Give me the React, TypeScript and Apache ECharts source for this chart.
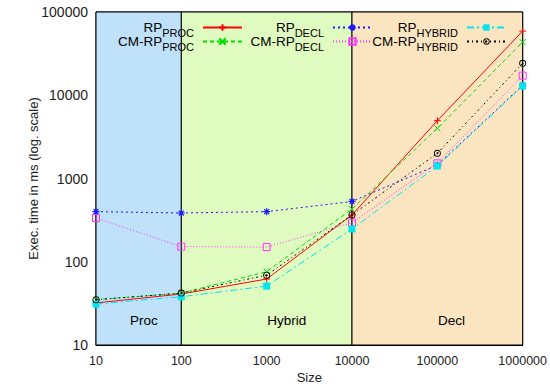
import React, { useEffect, useRef } from "react";
import * as echarts from "echarts";

const sizes = [10, 100, 1000, 10000, 100000, 1000000];
const rpProc = [32, 41, 62, 365, 4950, 59000];
const cmRpProc = [35, 42, 76, 430, 4000, 43500];
const rpDecl = [400, 385, 400, 530, 1450, 13200];
const cmRpDecl = [335, 152, 150, 295, 1520, 17200];
const rpHybrid = [31, 38, 51, 248, 1410, 12900];
const cmRpHybrid = [35, 42, 69, 365, 2010, 24200];

const regions = [
  { name: "Proc", from: 10, to: 100, color: "#bfe1fa", labelX: 36.5 },
  { name: "Hybrid", from: 100, to: 10000, color: "#e0fbc0", labelX: 1720 },
  { name: "Decl", from: 10000, to: 1000000, color: "#fbe5c0", labelX: 147000 },
];
const regionLabelY = 19.6;

const FONT = "'Liberation Sans', Arial, sans-serif";

const SYM_PLUS = "path://M0,5L10,5M5,0L5,10";
const SYM_X = "path://M0,0L10,10M10,0L0,10";
const SYM_STAR = "path://M0,5L10,5M5,0L5,10M1.5,1.5L8.5,8.5M8.5,1.5L1.5,8.5";
const SYM_ODOT =
  "path://M5,0A5,5,0,1,1,5,10A5,5,0,1,1,5,0ZM5,1.3A3.7,3.7,0,1,0,5,8.7A3.7,3.7,0,1,0,5,1.3ZM5,3.7A1.3,1.3,0,1,1,5,6.3A1.3,1.3,0,1,1,5,3.7Z";

const seriesDefs = [
  { id: "RP_PROC", main: "RP", sub: "PROC", data: rpProc, color: "#ff0000", dash: "solid" as any, symbol: SYM_PLUS, size: 7, fill: "#ff0000", stroke: 1, right: 307, top: 17 },
  { id: "CM-RP_PROC", main: "CM-RP", sub: "PROC", data: cmRpProc, color: "#00dd00", dash: [4, 3], symbol: SYM_X, size: 6, fill: "#00dd00", stroke: 1, right: 307, top: 31 },
  { id: "RP_DECL", main: "RP", sub: "DECL", data: rpDecl, color: "#1a1aff", dash: [2, 3], symbol: SYM_STAR, size: 7, fill: "#1a1aff", stroke: 1.2, right: 177, top: 17 },
  { id: "CM-RP_DECL", main: "CM-RP", sub: "DECL", data: cmRpDecl, color: "#ff33ff", dash: [1, 2], symbol: "rect", size: 7, fill: "rgba(0,0,0,0)", stroke: 1, right: 177, top: 31 },
  { id: "RP_HYBRID", main: "RP", sub: "HYBRID", data: rpHybrid, color: "#00e5ee", dash: [7, 3, 2, 3], symbol: "rect", size: 7, fill: "#00e5ee", stroke: 0, right: 43, top: 17 },
  { id: "CM-RP_HYBRID", main: "CM-RP", sub: "HYBRID", data: cmRpHybrid, color: "#000000", dash: [2, 3, 1, 3], symbol: SYM_ODOT, size: 7, fill: "#000000", stroke: 0, right: 43, top: 31 },
];

export default function App() {
  const ref = useRef<HTMLDivElement>(null);
  useEffect(() => {
    if (!ref.current) return;
    const chart = echarts.init(ref.current, undefined, { renderer: "svg" });

    const series: any[] = seriesDefs.map((d, i) => ({
      name: d.id,
      type: "line",
      data: sizes.map((s, k) => [s, d.data[k]]),
      symbol: d.symbol,
      symbolSize: d.size,
      showSymbol: true,
      z: 3 + i,
      lineStyle: { color: d.color, width: 1, type: d.dash },
      itemStyle: {
        color: d.fill,
        borderColor: d.color,
        borderWidth: d.stroke,
      },
      emphasis: { disabled: true },
    }));

    series[0].markArea = {
      silent: true,
      label: { show: false },
      data: regions.map((r) => [
        { xAxis: r.from, itemStyle: { color: r.color, borderColor: "#000", borderWidth: 1 } },
        { xAxis: r.to },
      ]),
    };

    const legends = seriesDefs.map((d) => ({
      data: [d.id],
      right: d.right,
      top: d.top,
      align: "right",
      orient: "horizontal",
      itemWidth: 39,
      itemHeight: 8,
      padding: 0,
      selectedMode: false,
      formatter: () => `{m|${d.main}}{s|${d.sub}}`,
      textStyle: {
        fontFamily: FONT,
        color: "#000",
        rich: {
          m: { fontSize: 13.5, fontFamily: FONT, color: "#000", lineHeight: 16 },
          s: { fontSize: 11, fontFamily: FONT, color: "#000", padding: [10, 4, 0, 0], lineHeight: 16 },
        },
      },
    }));

    chart.setOption({
      animation: false,
      backgroundColor: "#fff",
      grid: { left: 96, right: 27, top: 12, bottom: 45, show: true, borderColor: "#000", borderWidth: 1, backgroundColor: "transparent" },
      legend: legends,
      xAxis: {
        type: "log",
        logBase: 10,
        min: 10,
        max: 1000000,
        name: "Size",
        nameLocation: "middle",
        nameGap: 26,
        nameMoveOverlap: false,
        nameTextStyle: { fontFamily: FONT, fontSize: 13, color: "#222" },
        axisLine: { show: true, lineStyle: { color: "#000" } },
        axisTick: { show: false },
        splitLine: { show: false },
        minorTick: { show: false },
        axisLabel: { fontFamily: FONT, fontSize: 12.5, color: "#222", margin: 9, formatter: (v: number) => String(Math.round(v)) },
      },
      yAxis: {
        type: "log",
        logBase: 10,
        min: 10,
        max: 100000,
        name: "Exec. time in ms (log. scale)",
        nameLocation: "middle",
        nameGap: 56,
        nameMoveOverlap: false,
        nameTextStyle: { fontFamily: FONT, fontSize: 13, color: "#222" },
        axisLine: { show: true, lineStyle: { color: "#000" } },
        axisTick: { show: false },
        splitLine: { show: false },
        axisLabel: { fontFamily: FONT, fontSize: 14, color: "#222", margin: 8, formatter: (v: number) => String(Math.round(v)) },
      },
      series,
    });

    const labels = regions.map((r) => {
      const p = chart.convertToPixel({ gridIndex: 0 }, [r.labelX, regionLabelY]) as number[];
      return {
        type: "text",
        x: p[0],
        y: p[1],
        silent: true,
        z: 1,
        style: { text: r.name, fill: "#000", font: `13.5px ${FONT}`, align: "center", verticalAlign: "middle" },
      };
    });
    chart.setOption({ graphic: labels });

    return () => chart.dispose();
  }, []);
  return <div ref={ref} style={{ width: 550, height: 390, position: "absolute", left: 0, top: 0 }} />;
}
